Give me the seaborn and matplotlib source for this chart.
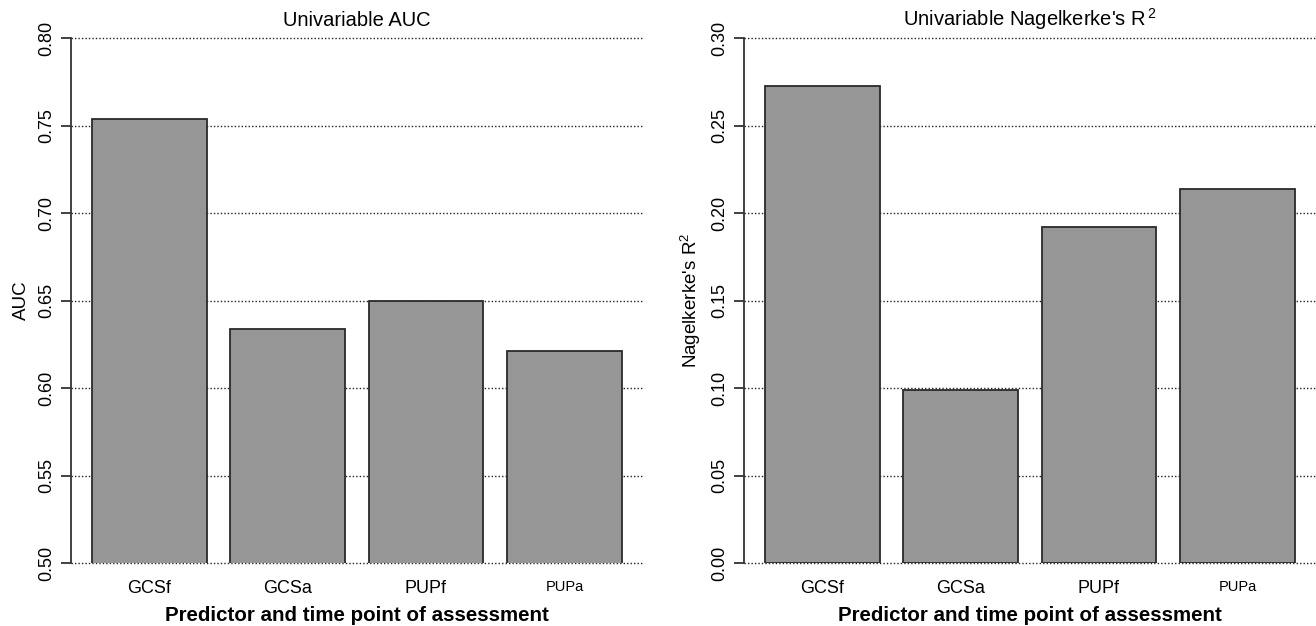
import matplotlib
matplotlib.use("Agg")
import matplotlib.pyplot as plt
import seaborn as sns
import pandas as pd

categories = ["GCSf", "GCSa", "PUPf", "PUPa"]
auc_values = [0.754, 0.634, 0.650, 0.621]
r2_values = [0.273, 0.099, 0.192, 0.214]
auc_ticks = [0.50, 0.55, 0.60, 0.65, 0.70, 0.75, 0.80]
r2_ticks = [0.00, 0.05, 0.10, 0.15, 0.20, 0.25, 0.30]

sns.set_style("white")
plt.rcParams["font.family"] = ["Liberation Sans", "DejaVu Sans"]
plt.rcParams["mathtext.fontset"] = "custom"
plt.rcParams["mathtext.rm"] = "Liberation Sans"
plt.rcParams["mathtext.it"] = "Liberation Sans:italic"
plt.rcParams["mathtext.bf"] = "Liberation Sans:bold"
for k in ["text.color", "axes.labelcolor", "xtick.color", "ytick.color"]:
    plt.rcParams[k] = "black"

W, H = 1316, 626
fig = plt.figure(figsize=(W / 100, H / 100), dpi=100)

bar_color = "#969696"
edge_color = "#2a2a2a"

def panel(rect, values, ticks, title, ylabel, ylim):
    ax = fig.add_axes(rect)
    df = pd.DataFrame({"cat": categories, "val": values})
    sns.barplot(data=df, x="cat", y="val", ax=ax, color=bar_color,
                saturation=1, width=0.83, edgecolor=edge_color, linewidth=1.3,
                zorder=3)
    ax.set_xlim(-0.565, 3.568)
    ax.set_ylim(*ylim)
    ax.set_yticks(ticks)
    ax.set_yticklabels([f"{t:.2f}" for t in ticks])
    ax.yaxis.grid(True, linestyle=(0, (1, 1.5)), color="#222222", linewidth=1.0, zorder=0)
    ax.xaxis.grid(False)
    ax.set_axisbelow(True)
    for gl in ax.get_ygridlines():
        gl.set_clip_on(False)
    for s in ["top", "right", "bottom"]:
        ax.spines[s].set_visible(False)
    ax.spines["left"].set_color("#333333")
    ax.spines["left"].set_linewidth(1.3)
    ax.tick_params(axis="y", direction="out", length=7, width=1.3, color="#333333",
                   left=True, labelsize=13, pad=4, labelrotation=90)
    for lab in ax.get_yticklabels():
        lab.set_va("center")
    ax.tick_params(axis="x", length=0, labelsize=13, pad=12)
    for lab in ax.get_xticklabels():
        if lab.get_text() == "PUPa":
            lab.set_fontsize(10.5)
    ax.set_xlabel("Predictor and time point of assessment", fontsize=14.8,
                  fontweight="bold", labelpad=7)
    ax.set_ylabel(ylabel, fontsize=13.5, labelpad=6)
    ax.set_title(title, fontsize=14.5, pad=9)
    return ax

bottom = 1 - 563 / H
top = 1 - 38.3 / H
h = top - bottom

panel([71 / W, bottom, (643 - 71) / W, h], auc_values, auc_ticks,
      "Univariable AUC", "AUC", (0.50, 0.80))
panel([744 / W, bottom, (1316 - 744) / W, h], r2_values, r2_ticks,
      r"Univariable Nagelkerke's R$^{\,2}$", r"Nagelkerke's R$^{2}$", (0.0, 0.30))

fig.savefig("out.png", dpi=100)
